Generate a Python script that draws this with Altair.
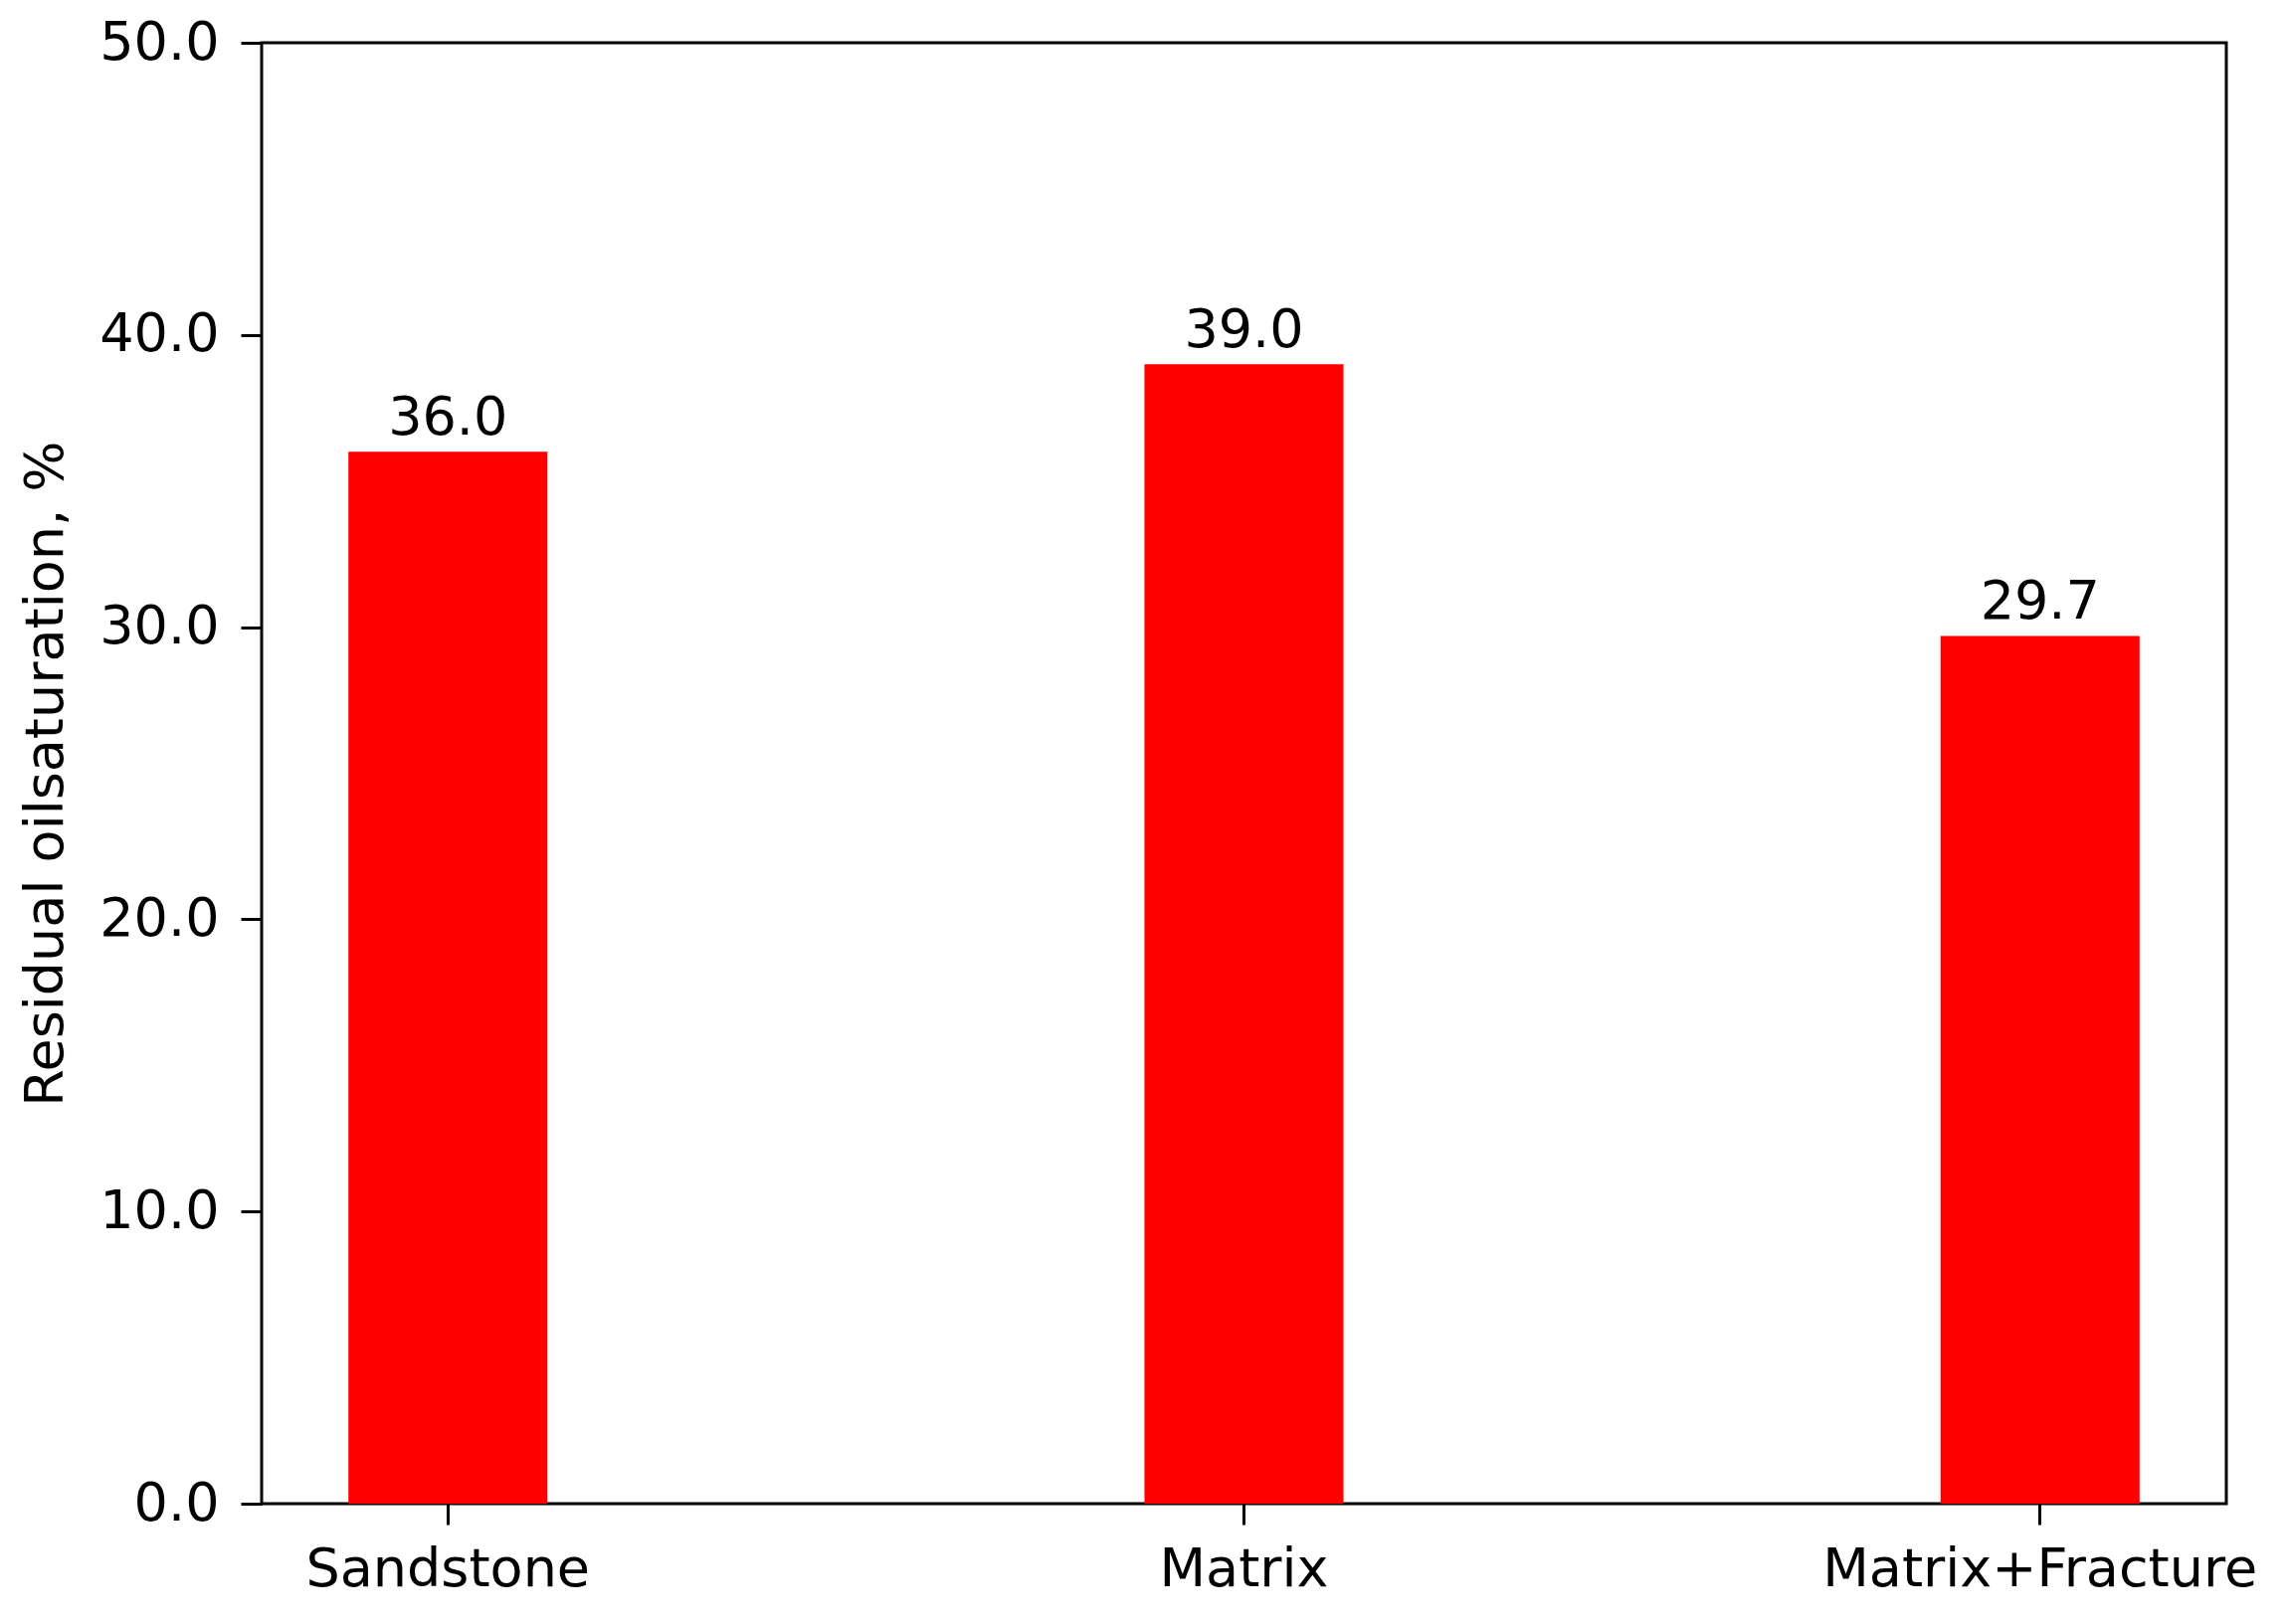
import altair as alt
import pandas as pd

categories = ["Sandstone", "Matrix", "Matrix+Fracture"]
values = [36.0, 39.0, 29.7]
y_ticks = [0, 10, 20, 30, 40, 50]

df = pd.DataFrame({"category": categories, "value": values})
df["label"] = [f"{v:.1f}" for v in values]

FONT = "DejaVu Sans"
FS = 54

x_enc = alt.X(
    "category:N",
    sort=categories,
    scale=alt.Scale(paddingInner=0.75, paddingOuter=0.109),
    axis=alt.Axis(
        title=None, labelAngle=0, labelFont=FONT, labelFontSize=FS, labelColor="black",
        labelLimit=2000,
        tickColor="black", tickWidth=3, tickSize=21, labelPadding=18, domain=False,
    ),
)
y_enc = alt.Y(
    "value:Q",
    scale=alt.Scale(domain=[0, 50], nice=False),
    axis=alt.Axis(
        title="Residual oilsaturation, %", values=y_ticks, format=".1f",
        labelFont=FONT, labelFontSize=FS, labelColor="black", labelLimit=2000,
        titleFont=FONT, titleFontSize=FS, titleFontWeight="normal", titleColor="black",
        titleLimit=3000,
        tickColor="black", tickWidth=3, tickSize=21, labelPadding=22, titlePadding=26,
        grid=False, domain=False,
    ),
)

bars = alt.Chart(df).mark_bar(color="#ff0000").encode(x=x_enc, y=y_enc)
text = alt.Chart(df).mark_text(
    baseline="bottom", dy=-6, font=FONT, fontSize=FS, color="black"
).encode(x=alt.X("category:N", sort=categories), y="value:Q", text="label:N")

chart = (
    alt.layer(bars, text)
    .properties(
        width=1975, height=1469,
        autosize=alt.AutoSizeParams(type="none"),
        padding={"left": 255, "top": 35, "right": 45, "bottom": 100},
        background="white",
    )
    .configure_view(stroke="black", strokeWidth=3, strokeOpacity=1)
)

chart.save("out.html", embed_options={"renderer": "svg", "actions": False})
